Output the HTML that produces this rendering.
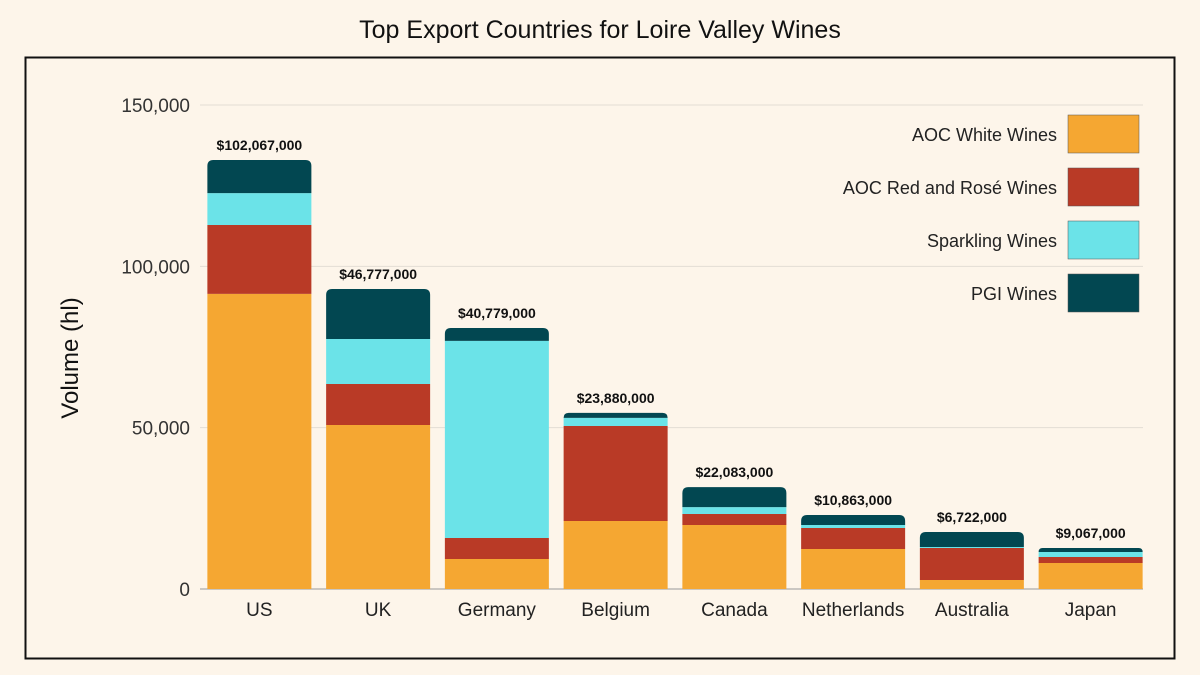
<!DOCTYPE html>
<html><head><meta charset="utf-8"><style>
body{margin:0;background:#fdf5ea;}
svg{display:block;font-family:"Liberation Sans",sans-serif;}
</style></head><body>
<svg id="chart" width="1200" height="675" viewBox="0 0 1200 675">
<rect x="0" y="0" width="1200" height="675" fill="#fdf5ea"/>
<text x="600" y="38" text-anchor="middle" font-size="25" fill="#111">Top Export Countries for Loire Valley Wines</text>
<rect x="25.5" y="57.5" width="1149" height="601" fill="none" stroke="#111" stroke-width="2"/>
<text transform="translate(78,358) rotate(-90)" text-anchor="middle" font-size="24" fill="#111">Volume (hl)</text>
<g id="grid"></g><g id="bars"></g><g id="labels"></g><g id="legend"></g>
</svg>
<script>
const categories=["US","UK","Germany","Belgium","Canada","Netherlands","Australia","Japan"];
const aocWhite=[91450,50840,9300,21080,19840,12400,2800,8060];
const aocRed=[21350,12700,6500,29450,3400,6500,9900,1860];
const sparkling=[9900,13950,61100,2500,2150,940,300,1550];
const pgi=[10240,15500,4000,1560,6200,3100,4650,1240];
const values=["$102,067,000","$46,777,000","$40,779,000","$23,880,000","$22,083,000","$10,863,000","$6,722,000","$9,067,000"];
const yTicks=[0,50000,100000,150000];
const tickLabels=["0","50,000","100,000","150,000"];
const seriesNames=["AOC White Wines","AOC Red and Rosé Wines","Sparkling Wines","PGI Wines"];
const colors=["#f5a732","#b93a26","#6be3e8","#024751"];
const NS="http://www.w3.org/2000/svg";
const x0=200,x1=1150,y0=589,yTop=105,yMax=150000;
const y=v=>y0-(v/yMax)*(y0-yTop);
const band=(x1-x0)/categories.length, bw=104;
const xc=i=>x0+band*(i+0.5);
function mk(tag,attrs,parent,text){const e=document.createElementNS(NS,tag);for(const k in attrs)e.setAttribute(k,attrs[k]);if(text!==undefined)e.textContent=text;document.getElementById(parent).appendChild(e);return e;}
yTicks.forEach((t,i)=>{
 const l=mk("line",{x1:x0,x2:1143,y1:y(t),y2:y(t),stroke:i==0?"#999":"#e2ddd4","stroke-width":1},"grid");
 
 
 const tx=mk("text",{x:190,y:y(t)+7,"text-anchor":"end","font-size":19,fill:"#333"},"grid",tickLabels[i]);
 
 
});
const series=[aocWhite,aocRed,sparkling,pgi];
categories.forEach((c,i)=>{
 let base=0;
 const total=series.reduce((s,a)=>s+a[i],0);
 series.forEach((a,s)=>{
  const top=base+a[i];
  const xl=xc(i)-bw/2, yt=y(top), yb=y(base);
  let d;
  if(s==3){const r=Math.min(6,yb-yt);d=`M${xl},${yb}V${yt+r}Q${xl},${yt} ${xl+r},${yt}H${xl+bw-r}Q${xl+bw},${yt} ${xl+bw},${yt+r}V${yb}Z`;}
  else d=`M${xl},${yb}V${yt}H${xl+bw}V${yb}Z`;
  const p=mk("path",{d:d,fill:colors[s]},"bars");
  
  
  base=top;
 });
 const vl=mk("text",{x:xc(i),y:y(total)-10,"text-anchor":"middle","font-size":14,"font-weight":"bold",fill:"#111"},"labels",values[i]);
 
 
 const cl=mk("text",{x:xc(i),y:616,"text-anchor":"middle","font-size":19,fill:"#222"},"labels",c);
 
 
});
seriesNames.forEach((n,s)=>{
 const yy=115+s*53;
 const r=mk("rect",{x:1068,y:yy,width:71,height:38,fill:colors[s],stroke:"#555","stroke-width":0.5},"legend");
 
 
 const t=mk("text",{x:1057,y:yy+26,"text-anchor":"end","font-size":18,fill:"#222"},"legend",n);
 
 
});
</script>
</body></html>
